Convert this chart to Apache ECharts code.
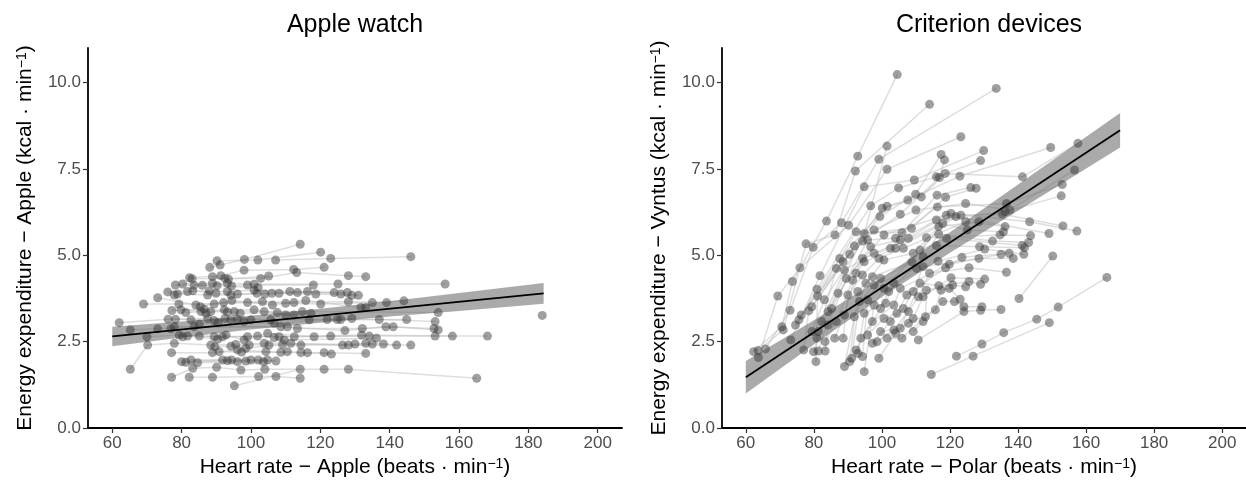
<!DOCTYPE html>
<html><head><meta charset="utf-8">
<script src="https://cdn.jsdelivr.net/npm/echarts@6/dist/echarts.min.js"></script>
<style>html,body{margin:0;padding:0;background:#fff}#c{width:1246px;height:483px}</style>
</head><body><div id="c"></div>
<script>
// ---------- DATA ----------
const xTicks = [60, 80, 100, 120, 140, 160, 180, 200];
const yTicks = [0, 2.5, 5, 7.5, 10];
const panelTitles = ['Apple watch', 'Criterion devices'];
const xTitles = ['Heart rate − Apple (beats · min', 'Heart rate − Polar (beats · min'];
const yTitles = ['Energy expenditure − Apple (kcal · min', 'Energy expenditure − Vyntus (kcal · min'];

// Apple watch: each subject = [heart rate, energy expenditure] points
const appleSubjects = [
  [[88.1,4.65],[91.1,4.72],[98.1,4.88],[114.2,5.32]],
  [[90.2,4.84],[102,4.86],[120.1,5.09]],
  [[107.1,4.86],[123,4.91],[146.1,4.96]],
  [[82.3,4.35],[91.3,4.41],[98,4.57],[112.3,4.59],[121.1,4.65]],
  [[83,4.32],[92.5,4.33],[102.8,4.33],[113.2,4.5],[128.1,4.41],[133.1,4.38]],
  [[88.9,4.38],[93.5,4.31],[105.1,4.40]],
  [[78.2,4.14],[86,4.13],[93.2,4.19],[100.9,4.16],[125.1,4.17],[156,4.17]],
  [[80.3,4.17],[88.9,4.19],[94.4,4.11],[99,4.14],[118,4.14]],
  [[83.6,4.13],[90.2,4.12],[102.1,4.06]],
  [[76,3.94],[81.7,3.95],[88,3.97],[93.2,3.95],[100.9,3.99],[111.2,3.95],[124,3.92]],
  [[77.9,3.85],[83.2,3.97],[89.9,3.9],[96.1,3.88],[104,3.88],[113.4,3.92],[127.8,3.92]],
  [[78.8,3.88],[87.5,3.85],[94.2,3.85],[101.7,3.9],[108.1,3.9],[118.7,3.88],[129.1,3.84]],
  [[106,3.9],[116.3,3.95],[125.9,3.88],[131,3.84]],
  [[69,3.59],[79.2,3.59],[89.4,3.59],[99,3.63],[110,3.61],[120.1,3.59],[135,3.63],[144.1,3.68]],
  [[73.1,3.77],[84.1,3.56],[92.1,3.63],[103.3,3.66],[112.4,3.63],[128.1,3.66],[139.1,3.63]],
  [[85.4,3.51],[94.5,3.69],[106.2,3.56],[115.8,3.69],[131.7,3.49],[133.1,3.49]],
  [[77.2,3.4],[86.5,3.44],[95.2,3.37],[103.8,3.37],[114.8,3.37],[154,3.34]],
  [[79.8,3.42],[85.6,3.37],[87,3.32],[92.3,3.42],[100.9,3.42],[110,3.27],[117.3,3.32]],
  [[81.2,3.34],[88.4,3.37],[93.2,3.36],[96.9,3.32],[107.6,3.34],[112.4,3.27]],
  [[184,3.26]],
  [[62,3.05],[76.1,3.15],[87.5,3.17],[96.1,3.15],[105.7,3.13],[122,3.14],[137,3.14],[153.1,3.08]],
  [[78.2,3.15],[89.4,3.11],[94.2,3.13],[100,3.13],[116.8,3.13],[124.9,3.14],[144.9,3.14]],
  [[82.7,3.13],[85.1,3.01],[90.5,3.05],[92.5,3.17],[98,3.08],[106.7,3.03],[125.9,3.14],[129.1,3.17]],
  [[65.2,2.84],[73.1,2.87],[83.6,2.93],[108.6,2.93],[127.1,2.82],[138.9,2.93],[152.8,2.88]],
  [[76.9,2.87],[77.9,2.93],[110.5,2.93],[113.4,2.88],[132.1,2.88],[141,2.93],[154,2.84]],
  [[70,2.64],[79.3,2.69],[89.4,2.64],[99,2.64],[108.1,2.64],[123,2.66],[153.1,2.66],[168.2,2.66]],
  [[80.3,2.64],[85.1,2.66],[91.8,2.64],[101.9,2.66],[112.5,2.64],[131.9,2.69],[158.1,2.66]],
  [[81.7,2.66],[90.4,2.57],[92.8,2.69],[98,2.55],[104.8,2.74],[118.2,2.64],[134.1,2.66]],
  [[106.7,2.62],[109.6,2.55],[136.2,2.6]],
  [[65.2,1.7],[70.2,2.4],[77.9,2.45],[88.4,2.4],[95.6,2.42],[103.8,2.45],[111.5,2.45],[126.4,2.4],[146.1,2.4]],
  [[89.6,2.35],[94.2,2.37],[99.5,2.4],[105.2,2.4],[114.4,2.4],[128.1,2.4],[135,2.43]],
  [[98.5,2.31],[109.1,2.42],[130,2.43],[133.1,2.45],[138.2,2.43],[142,2.4]],
  [[77.1,2.18],[88.9,2.18],[96.1,2.26],[104.3,2.21],[114.4,2.18],[121.1,2.18],[133.1,2.16]],
  [[90.8,2.21],[97.3,2.2],[108.6,2.19],[110.5,2.21],[116.3,2.18],[123.2,2.14]],
  [[80,1.92],[91.8,1.97],[98.5,1.94],[104.8,1.97]],
  [[81.2,1.9],[93.2,1.95],[100,1.97],[107.2,1.94]],
  [[82.7,1.97],[94.4,1.97],[102.1,1.97]],
  [[84.6,1.89],[96.1,1.92],[103.6,1.92]],
  [[77.1,1.47],[83.2,1.73],[90.1,1.76],[97.1,1.68],[104,1.70],[121.1,1.70],[128.1,1.70],[165.1,1.44]],
  [[82.2,1.47],[88.9,1.47],[102.2,1.49],[107.2,1.49],[114.2,1.44]],
  [[95.2,1.22],[114.2,1.70]]
];

// Criterion devices: each subject = [Polar heart rate, Vyntus energy expenditure] points
const criterionSubjects = [
  [[62.3,2.21],[70.6,2.93],[73.7,4.24],[83.7,5.99],[92.9,7.87],[104.5,10.23]],
  [[63.6,2.24],[71,2.84],[77.7,5.33],[86.2,5.59],[92.2,7.44],[114,9.37]],
  [[65.8,2.29],[73,3.41],[79.8,5.23],[88.1,5.94],[99.1,7.78],[133.6,9.83]],
  [[63.7,2.04],[69.4,3.82],[75.9,4.64],[90.2,5.87],[101.5,7.49],[123.2,8.43]],
  [[73.2,2.55],[81.8,4.41],[94.8,6.98],[109.5,7.18],[129.9,8.03]],
  [[74.6,2.98],[80.9,4.02],[96.7,6.43],[104.9,6.95],[116,7.27],[129,7.74]],
  [[75.6,3.13],[87.6,4.91],[101.5,6.42],[107.6,6.6],[122.9,7.29],[149.6,8.12]],
  [[76.3,3.27],[88.6,4.81],[100.1,6.36],[111.6,6.69],[118.6,7.37],[141.3,7.27],[157.6,8.24]],
  [[77,2.26],[78.5,3.39],[90.5,5.03],[99.4,6.12],[109.9,6.77],[117.4,7.92]],
  [[79.4,3.51],[91.9,5.27],[105.4,6.19],[116.9,7.25],[118.4,7.76]],
  [[79.4,2.79],[83.1,3.71],[94.3,5.41],[101.5,8.16]],
  [[80.6,1.92],[81.1,3.82],[92.4,5.68],[105.9,5.65],[116.2,6.74],[126.1,6.96]],
  [[79.9,2.21],[84.2,3.37],[94.8,5.63],[108.7,5.78],[118.7,6.68],[127.7,6.94]],
  [[81.3,2.23],[85.2,3.46],[95.8,5.44],[104,5.49],[116.3,6.4],[136.6,6.5],[153,7.05]],
  [[80.9,2.6],[86.6,4.62],[97.7,5.73],[110,6.31],[124.6,6.5],[137.6,6.31],[156.6,7.47]],
  [[81.3,2.79],[87.1,3.9],[96.7,5.25],[105.4,5.44],[116,6.02],[136.2,6.26],[152.7,6.72]],
  [[82.3,3.08],[89,4.57],[97.7,5.06],[107.8,5.49],[118.9,6.16],[135.4,6.19],[153.2,5.85]],
  [[83.3,2.23],[84.2,2.98],[89.5,4.33],[100.6,5.59],[120.3,6.21],[143.4,5.97],[157.3,5.7]],
  [[83.3,2.5],[86.6,3.08],[91.4,4.28],[94.3,4.91],[102.5,5.2],[121.7,6.12],[149.1,5.63]],
  [[86.1,2.6],[89,3.27],[92.4,4.48],[94.8,4.81],[104,5.2],[123.2,6.16]],
  [[88.6,2.6],[90,3.85],[94.3,4.43],[99.1,4.91],[106.3,5.2],[124.6,5.97],[136.2,5.83]],
  [[89,1.78],[91.9,3.22],[95.3,4.19],[100.6,4.86],[109.2,5.06],[116.7,5.83],[128.5,5.97]],
  [[90.5,1.92],[92.9,3.95],[97.2,4.38],[108.8,4.81],[117.9,5.92],[125.1,5.73],[135.7,5.68]],
  [[91.1,2.02],[93.4,3.66],[97.7,4.14],[110.2,4.62],[113.1,5.51],[134.7,5.59],[143.7,5.57]],
  [[94.3,2.07],[95.8,3.71],[99.6,4.33],[112.1,4.96],[116.7,5.61],[132.5,5.41],[143.1,5.37]],
  [[94.8,1.63],[97.7,3.56],[100.6,4.04],[111.2,5.15],[119,5.49],[141.2,5.28]],
  [[92.4,2.26],[99.6,3.46],[102,3.95],[116,5.28],[128.7,5.25],[141.9,5.22]],
  [[92.9,2.16],[94.8,3.32],[101.1,3.61],[103.5,4.19],[116.5,4.83],[130.2,5.18],[141.7,5.03]],
  [[93.8,2.6],[97.2,3.08],[103.5,3.56],[105.4,4.04],[119.8,4.74],[135,5.03]],
  [[95.8,2.69],[100.6,3.17],[104.4,3.32],[107.3,3.85],[118.7,4.64],[123.5,4.94],[137.4,5.06]],
  [[97.2,2.45],[102.5,3.08],[106.3,3.46],[109.2,3.95],[112.1,4.67],[128.5,4.91],[138.6,4.91]],
  [[98.6,2.5],[103.5,2.84],[107.8,3.37],[110.7,3.8],[114,4.48],[125.6,4.64],[136.6,4.51]],
  [[99.1,2.02],[104,2.74],[109.2,3.17],[112.1,3.8],[120.3,4.35],[130.2,4.31]],
  [[99.6,2.79],[105.4,2.89],[111.2,4.19],[116.7,4.12],[125.6,4.24],[129,4.16]],
  [[101.5,2.6],[105.9,2.6],[112.8,3.22],[113.1,3.99],[120.8,4.14],[124.6,4.09]],
  [[107.8,3.03],[115.7,3.42],[117.4,3.99],[119.8,4.04],[123,3.73]],
  [[109.2,2.79],[112.1,3.08],[117.9,3.66],[121.3,3.66],[124.1,3.51],[129.4,3.51]],
  [[110.7,2.55],[124.1,3.37],[129,3.41],[135,3.43]],
  [[114.5,1.55],[126.8,2.08],[149.2,3.05]],
  [[121.9,2.08],[129.4,2.43],[135.8,2.76],[145.5,3.15],[151.8,3.5],[166.1,4.36]],
  [[140.3,3.75],[150.2,4.98]]
];

// Linear fits and confidence bands
const appleFitX = [60, 184.4];
const appleFitY = [2.65, 3.90];
const appleBandX  = [60, 80, 100, 120, 140, 160, 184.4];
const appleBandLo = [2.37, 2.62, 2.85, 3.05, 3.23, 3.39, 3.60];
const appleBandHi = [2.93, 3.08, 3.25, 3.45, 3.67, 3.91, 4.20];

const critFitX = [60, 170];
const critFitY = [1.47, 8.62];
const critBandX  = [60, 80, 100, 120, 140, 170];
const critBandLo = [1.00, 2.42, 3.79, 5.07, 6.29, 8.12];
const critBandHi = [1.94, 3.12, 4.35, 5.67, 7.05, 9.12];

// ---------- CHART ----------
const FONT = "'Liberation Sans', Arial, Helvetica, sans-serif";
const grids = [
  { left: 88, top: 48, width: 534, height: 380 },
  { left: 722, top: 48, width: 534, height: 380 }
];

function xAxisFor(i) {
  return {
    type: 'value', gridIndex: i, min: 53, max: 207,
    name: xTitles[i] + '{s|−1})', nameLocation: 'middle', nameGap: 28,
    nameTextStyle: { fontFamily: FONT, fontSize: 21, color: '#000',
      rich: { s: { fontFamily: FONT, fontSize: 14, color: '#000', verticalAlign: 'top' } } },
    axisLine: { show: true, onZero: false, lineStyle: { color: '#000', width: 1.8 } },
    axisTick: { show: true, length: 5, customValues: xTicks, lineStyle: { color: '#333', width: 1.2 } },
    axisLabel: { show: true, customValues: xTicks, margin: 7, color: '#4d4d4d', fontSize: 17, fontFamily: FONT },
    splitLine: { show: false }
  };
}
function yAxisFor(i) {
  return {
    type: 'value', gridIndex: i, min: 0, max: 11,
    name: yTitles[i] + '{s|−1})', nameLocation: 'middle', nameGap: 52,
    nameTextStyle: { fontFamily: FONT, fontSize: 21, color: '#000',
      rich: { s: { fontFamily: FONT, fontSize: 14, color: '#000', verticalAlign: 'top' } } },
    axisLine: { show: true, onZero: false, lineStyle: { color: '#000', width: 1.8 } },
    axisTick: { show: true, length: 5, customValues: yTicks, lineStyle: { color: '#333', width: 1.2 } },
    axisLabel: { show: true, customValues: yTicks, margin: 7, color: '#4d4d4d', fontSize: 17, fontFamily: FONT,
      formatter: v => Number(v).toFixed(1) },
    splitLine: { show: false }
  };
}

function panelSeries(i, subjects, bandX, bandLo, bandHi, fitX, fitY) {
  return [
    {
      type: 'lines', coordinateSystem: 'cartesian2d', xAxisIndex: i, yAxisIndex: i,
      polyline: true, silent: true, z: 1,
      lineStyle: { color: '#bdbdbd', width: 1.5, opacity: 0.5 },
      data: subjects.filter(s => s.length > 1).map(s => ({ coords: s }))
    },
    {
      type: 'custom', xAxisIndex: i, yAxisIndex: i, silent: true, z: 2,
      data: [[bandX[0], bandLo[0]]],
      renderItem: function (params, api) {
        const pts = [];
        for (let k = 0; k < bandX.length; k++) pts.push(api.coord([bandX[k], bandHi[k]]));
        for (let k = bandX.length - 1; k >= 0; k--) pts.push(api.coord([bandX[k], bandLo[k]]));
        return { type: 'polygon', shape: { points: pts }, style: { fill: 'rgba(100,100,100,0.55)' } };
      }
    },
    {
      type: 'scatter', xAxisIndex: i, yAxisIndex: i, silent: true, z: 3,
      symbolSize: 9,
      itemStyle: { color: 'rgba(55,55,55,0.6)' },
      data: subjects.flat()
    },
    {
      type: 'line', xAxisIndex: i, yAxisIndex: i, silent: true, z: 4,
      showSymbol: false, symbol: 'none',
      lineStyle: { color: '#000', width: 1.8 },
      data: fitX.map((x, k) => [x, fitY[k]])
    }
  ];
}

const chart = echarts.init(document.getElementById('c'));
chart.setOption({
  animation: false,
  backgroundColor: '#fff',
  grid: grids,
  xAxis: [xAxisFor(0), xAxisFor(1)],
  yAxis: [yAxisFor(0), yAxisFor(1)],
  graphic: panelTitles.map((t, i) => ({
    type: 'text', x: grids[i].left + grids[i].width / 2, y: 25,
    style: { text: t, fill: '#000', font: '25px ' + FONT, align: 'center', verticalAlign: 'middle' }
  })),
  series: [].concat(
    panelSeries(0, appleSubjects, appleBandX, appleBandLo, appleBandHi, appleFitX, appleFitY),
    panelSeries(1, criterionSubjects, critBandX, critBandLo, critBandHi, critFitX, critFitY)
  )
});
</script>
</body></html>
